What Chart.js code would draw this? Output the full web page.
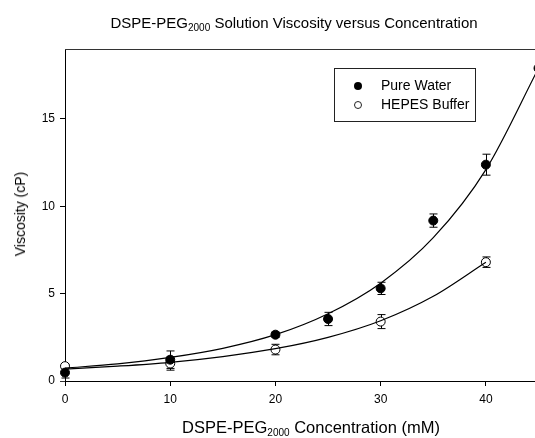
<!DOCTYPE html>
<html>
<head>
<meta charset="utf-8">
<script src="https://cdn.jsdelivr.net/npm/chart.js@4"></script>
<style>
    html, body { margin: 0; padding: 0; background: #fff; overflow: hidden; }
    #wrap { position: relative; width: 535px; height: 438px; overflow: hidden; }
    canvas { position: absolute; left: 0; top: 0; }
    .lbl {
        position: absolute; white-space: nowrap; color: #000;
        font-family: "Liberation Sans", Arial, sans-serif;
        transform: translate(-50%, -50%);
    }
    .lbl sub { font-size: 10px; vertical-align: -3px; line-height: 0; }
</style>
</head>
<body>
<div id="wrap">
    <canvas id="chart" width="544" height="438"></canvas>
    <div class="lbl" style="left:294px; top:22px; font-size:15px;">DSPE-PEG<sub>2000</sub> Solution Viscosity versus Concentration</div>
    <div class="lbl" style="left:311px; top:427px; font-size:16.5px;">DSPE-PEG<sub>2000</sub> Concentration (mM)</div>
    <div class="lbl" style="left:20px; top:214px; font-size:14px; transform: translate(-50%, -50%) rotate(-90deg);">Viscosity (cP)</div>
</div>
<script>
// measured points (mean, error)
const concWater = [0, 10, 20, 25, 30, 35, 40, 45];
const viscWater = [0.48, 1.22, 2.65, 3.55, 5.3, 9.18, 12.38, 17.9];
const errWater  = [0.31, 0.5, 0.15, 0.38, 0.35, 0.38, 0.6, 0.3];

const concHepes = [0, 10, 20, 30, 40];
const viscHepes = [0.85, 1.0, 1.8, 3.4, 6.8];
const errHepes  = [0.1, 0.38, 0.3, 0.4, 0.3];

// fitted curves
const fitConcWater = [0, 5, 10, 15, 20, 25, 30, 35, 40, 45];
const fitWater     = [0.74, 0.98, 1.35, 1.87, 2.65, 3.85, 5.6, 8.2, 12.1, 17.9];
const fitConcHepes = [0, 5, 10, 15, 20, 25, 30, 35, 40];
const fitHepes     = [0.68, 0.85, 1.07, 1.4, 1.85, 2.5, 3.45, 4.85, 6.8];

const xTicks = [0, 10, 20, 30, 40];
const yTicks = [0, 5, 10, 15];

const FONT = "'Liberation Sans', Arial, sans-serif";

function toXY(xs, ys) {
    return xs.map((x, i) => ({ x: x, y: ys[i] }));
}

const errorBars = {
    id: "errorBars",
    beforeDatasetsDraw(chart) {
        const { ctx, scales: { x, y } } = chart;
        const sets = [[concWater, viscWater, errWater], [concHepes, viscHepes, errHepes]];
        ctx.save();
        ctx.strokeStyle = "#000";
        ctx.lineWidth = 1;
        for (const [xs, ys, es] of sets) {
            xs.forEach((v, i) => {
                const px = Math.round(x.getPixelForValue(v)) + 0.5;
                const top = y.getPixelForValue(ys[i] + es[i]);
                const bot = y.getPixelForValue(ys[i] - es[i]);
                ctx.beginPath();
                ctx.moveTo(px, top); ctx.lineTo(px, bot);
                ctx.moveTo(px - 4, top); ctx.lineTo(px + 4, top);
                ctx.moveTo(px - 4, bot); ctx.lineTo(px + 4, bot);
                ctx.stroke();
            });
        }
        ctx.restore();
    },
    afterDraw(chart) {
        const { ctx, chartArea: a } = chart;
        ctx.save();
        // top frame line and the little stub of the x axis left of the y axis
        ctx.strokeStyle = "#333";
        ctx.lineWidth = 1;
        ctx.beginPath();
        ctx.moveTo(a.left, a.top + 0.5); ctx.lineTo(a.right, a.top + 0.5);
        ctx.moveTo(a.left - 5, Math.round(a.bottom) + 0.5); ctx.lineTo(a.left, Math.round(a.bottom) + 0.5);
        ctx.stroke();

        // legend box
        ctx.strokeStyle = "#222";
        ctx.strokeRect(334.5, 68.5, 141, 53);
        ctx.fillStyle = "#000";
        ctx.beginPath(); ctx.arc(358, 86, 4, 0, Math.PI * 2); ctx.fill();
        ctx.beginPath(); ctx.arc(358, 105, 3.5, 0, Math.PI * 2);
        ctx.fillStyle = "#fff"; ctx.fill(); ctx.stroke();
        ctx.fillStyle = "#000";
        ctx.font = "14px " + FONT;
        ctx.textBaseline = "middle";
        ctx.fillText("Pure Water", 381, 86);
        ctx.fillText("HEPES Buffer", 381, 105);
        ctx.restore();
    }
};

new Chart(document.getElementById("chart"), {
    type: "scatter",
    data: {
        datasets: [
            {
                label: "Pure Water fit", type: "line", data: toXY(fitConcWater, fitWater),
                borderColor: "#000", borderWidth: 1.2, pointRadius: 0, fill: false,
                cubicInterpolationMode: "monotone", order: 0,
            },
            {
                label: "HEPES Buffer fit", type: "line", data: toXY(fitConcHepes, fitHepes),
                borderColor: "#000", borderWidth: 1.2, pointRadius: 0, fill: false,
                cubicInterpolationMode: "monotone", order: 0,
            },
            {
                label: "Pure Water", data: toXY(concWater, viscWater),
                pointRadius: 4.5, pointBackgroundColor: "#000", pointBorderColor: "#000",
                pointBorderWidth: 1, clip: false, order: 1,
            },
            {
                label: "HEPES Buffer", data: toXY(concHepes, viscHepes),
                pointRadius: 4.5, pointBackgroundColor: "#fff", pointBorderColor: "#000",
                pointBorderWidth: 1, clip: false, order: 1,
            },
        ],
    },
    options: {
        responsive: false,
        animation: false,
        devicePixelRatio: 1,
        layout: { padding: { top: 49, right: 2, left: 0, bottom: 0 } },
        plugins: { legend: { display: false }, tooltip: { enabled: false }, title: { display: false } },
        scales: {
            x: {
                type: "linear", min: 0, max: 45,
                afterFit: s => { s.height = 57; },
                afterBuildTicks: s => { s.ticks = xTicks.map(v => ({ value: v })); },
                border: { display: true, color: "#000", width: 1 },
                grid: { drawOnChartArea: false, drawTicks: true, tickLength: 5, color: "#000" },
                ticks: { color: "#000", font: { family: FONT, size: 12 }, padding: 6, maxRotation: 0 },
            },
            y: {
                type: "linear", min: 0, max: 19,
                afterFit: s => { s.width = 65; },
                afterBuildTicks: s => { s.ticks = yTicks.map(v => ({ value: v })); },
                border: { display: true, color: "#000", width: 1 },
                grid: { drawOnChartArea: false, drawTicks: true, tickLength: 5, color: "#000" },
                ticks: { color: "#000", font: { family: FONT, size: 12 }, padding: 5 },
            },
        },
    },
    plugins: [errorBars],
});
</script>
</body>
</html>
